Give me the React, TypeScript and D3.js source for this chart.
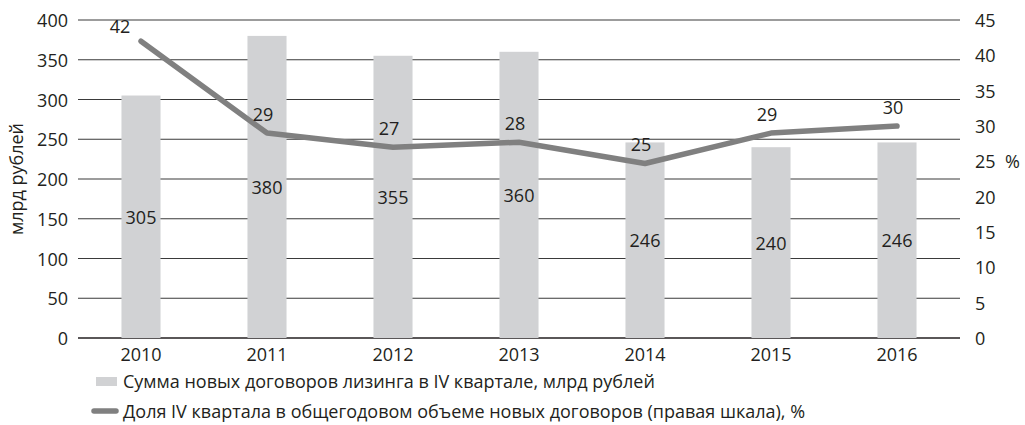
import React from "react";
import * as d3 from "d3";

const years = ["2010", "2011", "2012", "2013", "2014", "2015", "2016"];
const sums = [305, 380, 355, 360, 246, 240, 246];
const shares = [42, 29, 27, 27.7, 24.7, 29, 30];
const leftTicks = [0, 50, 100, 150, 200, 250, 300, 350, 400];
const rightTicks = [0, 5, 10, 15, 20, 25, 30, 35, 40, 45];
const legendBars = "Сумма новых договоров лизинга в IV квартале, млрд рублей";
const legendLine = "Доля IV квартала в общегодовом объеме новых договоров (правая шкала), %";
const leftTitle = "млрд рублей";

const W = 1025, H = 425;
const m = { left: 78, right: 960, top: 20, bottom: 338 };
const FONT = "'Open Sans', sans-serif";
const FS = 18;
const TXT = "#231f20";
const BAR = "#d1d2d4";
const LINE = "#808080";

export default function App() {
  const x = d3.scaleBand().domain(years).range([m.left, m.right]).paddingInner(0.69).paddingOuter(0.345);
  const yL = d3.scaleLinear().domain([0, 400]).range([m.bottom, m.top]);
  const yR = d3.scaleLinear().domain([0, 45]).range([m.bottom, m.top]);
  const cx = (d: string) => (x(d) as number) + x.bandwidth() / 2;
  const line = d3.line<number>().x((_, i) => cx(years[i])).y((v) => yR(v));
  const fmt = d3.format(".0f");

  return (
    <svg width={W} height={H} style={{ position: "absolute", left: 0, top: 0 }} fontFamily={FONT}>
      <rect width={W} height={H} fill="#fff" />
      {leftTicks.map((t) => (
        <line key={t} x1={m.left} x2={m.right} y1={yL(t)} y2={yL(t)} stroke={t === 0 ? "#231f20" : "#3a3a3a"} strokeWidth={t === 0 ? 1.6 : 1.2} />
      ))}
      {years.map((yr, i) => (
        <rect key={yr} x={x(yr)} y={yL(sums[i])} width={x.bandwidth()} height={yL(0) - yL(sums[i])} fill={BAR} />
      ))}
      {years.map((yr, i) => (
        <text key={yr} x={cx(yr)} y={(yL(0) + yL(sums[i])) / 2} textAnchor="middle" dominantBaseline="central" fontSize={FS} fill={TXT}>
          {sums[i]}
        </text>
      ))}
      <path d={line(shares) || ""} fill="none" stroke={LINE} strokeWidth={5.5} strokeLinejoin="round" strokeLinecap="round" />
      {years.map((yr, i) => (
        <text key={yr} x={cx(yr) + (i === 0 ? -21 : -4)} y={yR(shares[i]) + (i === 0 ? -15 : -19)} textAnchor="middle" dominantBaseline="central" fontSize={FS} fill={TXT}>
          {fmt(shares[i])}
        </text>
      ))}
      {leftTicks.map((t) => (
        <text key={t} x={68} y={yL(t)} textAnchor="end" dominantBaseline="central" fontSize={FS} fill={TXT}>{t}</text>
      ))}
      {rightTicks.map((t) => (
        <text key={t} x={975} y={yR(t)} textAnchor="start" dominantBaseline="central" fontSize={FS} fill={TXT}>{t}</text>
      ))}
      <text x={1005} y={yR(25)} dominantBaseline="central" fontSize={FS} fill={TXT}>%</text>
      {years.map((yr) => (
        <text key={yr} x={cx(yr)} y={354} textAnchor="middle" dominantBaseline="central" fontSize={FS} fill={TXT}>{yr}</text>
      ))}
      <text transform={`translate(16,${(m.top + m.bottom) / 2}) rotate(-90)`} textAnchor="middle" dominantBaseline="central" fontSize={FS} fill={TXT}>{leftTitle}</text>
      <rect x={96} y={377} width={21} height={9} fill={BAR} />
      <text x={123} y={381} dominantBaseline="central" fontSize={FS} fill={TXT}>{legendBars}</text>
      <line x1={94} x2={116} y1={411} y2={411} stroke={LINE} strokeWidth={5.5} strokeLinecap="round" />
      <text x={123} y={411} dominantBaseline="central" fontSize={FS} fill={TXT}>{legendLine}</text>
    </svg>
  );
}
